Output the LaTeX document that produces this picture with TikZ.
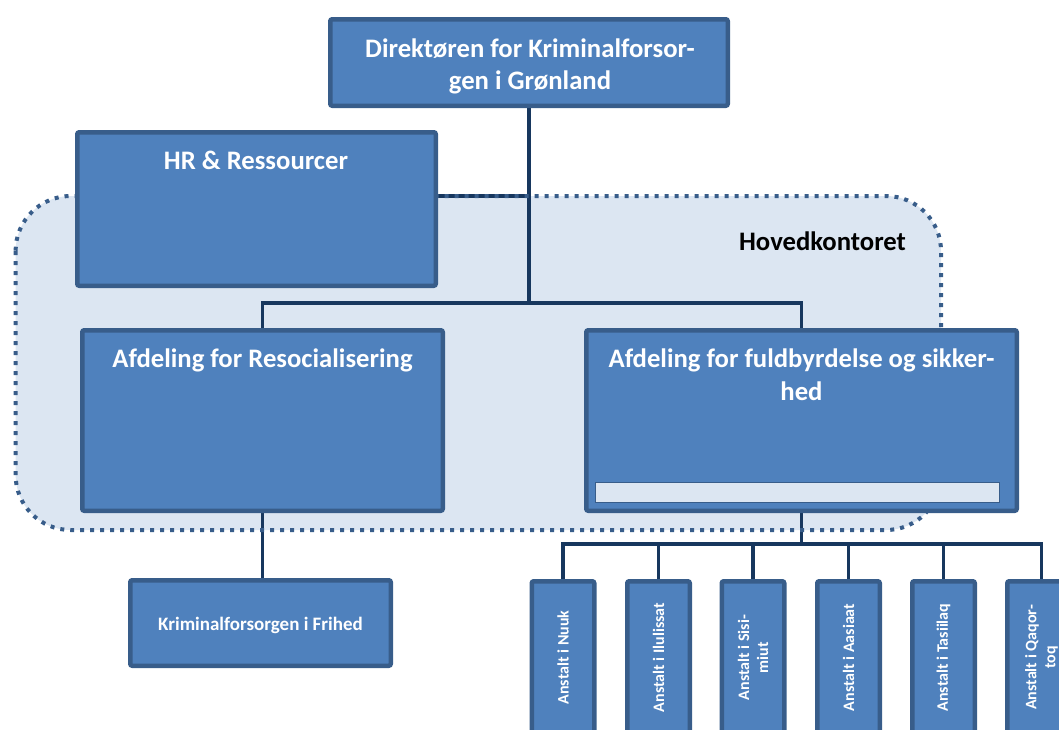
\documentclass[tikz,border=0pt]{standalone}
\usepackage{fontspec}
\setmainfont{Carlito}
\definecolor{boxc}{HTML}{4F81BD}
\definecolor{bordc}{HTML}{385D8A}
\definecolor{lightc}{HTML}{DCE6F2}
\definecolor{connc}{HTML}{17375E}
\pgfdeclarelayer{back}
\pgfdeclarelayer{mid}
\pgfsetlayers{back,mid,main}
\begin{document}
\begin{tikzpicture}[x=1pt,y=-1pt,
  box/.style={draw=bordc, fill=boxc, line width=4.5pt, rounded corners=2pt, inner sep=0pt, outer sep=0pt},
  conn/.style={draw=connc, line width=3.6pt},
  bigtxt/.style={font=\fontsize{26.7}{32}\selectfont\bfseries, text=white, inner sep=0pt, anchor=base},
  midtxt/.style={font=\fontsize{19}{23}\selectfont\bfseries, text=white, inner sep=0pt, anchor=base},
  smalltxt/.style={font=\fontsize{16}{19}\selectfont\bfseries, text=white, inner sep=0pt, align=center, rotate=90},
  region/.style={rounded corners=55pt}]
\useasboundingbox (0,0) rectangle (1059,729);
\clip (0,0) rectangle (1059,729);

% boxes
\node[box, minimum width=397.5pt, minimum height=86.5pt] (dir) at (529,62.5) {};
\node[box, minimum width=358.5pt, minimum height=153.5pt] (hr) at (256.5,209) {};
\node[box, minimum width=360.5pt, minimum height=180.5pt] (res) at (262.5,420.5) {};
\node[box, minimum width=430.5pt, minimum height=180.5pt] (ful) at (801.5,420.5) {};
\node[draw=bordc, fill=lightc, line width=1pt, minimum width=404pt, minimum height=20pt, inner sep=0pt] (bar) at (797.5,492.5) {};
\node[box, minimum width=260.5pt, minimum height=85.5pt] (fri) at (260.5,623) {};
\foreach \n/\cx/\w in {a1/563/62.5, a2/658.5/62.5, a3/753/62.5, a4/848.5/62.5, a5/943.5/62.5, a6/1041.5/68.5}{
  \node[box, minimum width=\w pt, minimum height=152.5pt] (\n) at (\cx,657.5) {};
}

% texts
\node[bigtxt] (dirt1) at (530,57) {Direktøren for Kriminalforsor-};
\node[bigtxt] (dirt2) at (530,89) {gen i Grønland};
\node[bigtxt] (hrt) at (256,169) {HR \& Ressourcer};
\node[bigtxt, text=black] (hkt) at (822.5,250) {Hovedkontoret};
\node[bigtxt] (rest) at (262.5,367) {Afdeling for Resocialisering};
\node[bigtxt] (fult1) at (801.5,367) {Afdeling for fuldbyrdelse og sikker-};
\node[bigtxt] (fult2) at (801.5,400) {hed};
\node[midtxt] (frit) at (260.5,630) {Kriminalforsorgen i Frihed};
\node[smalltxt] (a1t) at (a1) {Anstalt i Nuuk};
\node[smalltxt] (a2t) at (a2) {Anstalt i Ilulissat};
\node[smalltxt] (a3t) at (a3) {Anstalt i Sisi-\\miut};
\node[smalltxt] (a4t) at (a4) {Anstalt i Aasiaat};
\node[smalltxt] (a5t) at (a5) {Anstalt i Tasiilaq};
\node[smalltxt] (a6t) at (a6) {Anstalt i Qaqor-\\toq};

% region and connectors
\begin{pgfonlayer}{back}
  \fill[lightc, region] (15.6,196) rectangle (941,530);
  \draw[conn] (dir.south) -- ++(0,197) coordinate (j1);
  \draw[conn] (res.north) |- (j1) -| (ful.north);
  \coordinate (hrj) at (dir.south |- 0,196);
  \draw[conn] (hrj) -- (hrj -| hr.east);
  \draw[conn] (res.south) -- (res.south |- fri.north);
  \draw[conn] (ful.south) -- ++(0,33) coordinate (j2);
  \foreach \n in {a1,a2,a3,a4,a5,a6}{
    \draw[conn] (j2) -| (\n.north);
  }
\end{pgfonlayer}
\begin{pgfonlayer}{mid}
  \draw[bordc, line width=4pt, dash pattern=on 4pt off 6pt, region] (15.6,196) rectangle (941,530);
\end{pgfonlayer}
\end{tikzpicture}
\end{document}
